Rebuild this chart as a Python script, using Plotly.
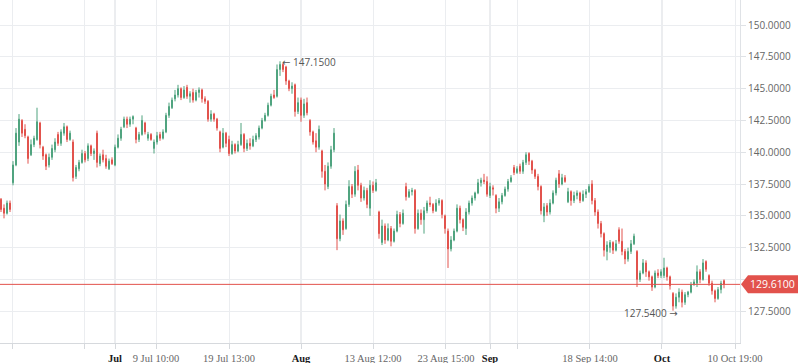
import plotly.graph_objects as go

# ---- data ----
opens = [136.3,135.6,135.2,136.0,137.6,139.0,140.8,142.5,141.8,141.2,139.8,140.6,141.0,142.3,140.4,139.8,139.0,139.6,140.2,141.4,
140.7,141.5,142.0,141.0,140.8,138.1,138.7,139.2,139.9,139.5,140.5,139.9,141.5,139.1,139.8,139.5,138.7,139.4,139.0,140.4,
141.1,142.0,142.6,142.2,142.6,141.9,141.0,141.4,142.3,141.1,141.4,140.3,140.8,141.4,141.1,141.6,142.9,143.5,144.2,144.5,
145.0,144.3,145.1,144.4,144.7,144.1,144.7,144.9,144.2,144.0,142.6,143.0,142.6,141.6,140.4,141.5,141.0,139.9,140.6,140.1,
140.6,141.4,140.3,140.7,140.5,141.0,141.2,141.9,142.5,142.9,143.7,144.5,144.4,146.5,146.9,146.7,145.6,145.0,145.3,143.2,
144.1,142.9,143.9,142.5,141.6,140.9,140.4,140.1,138.5,137.3,138.9,140.2,135.8,133.2,134.6,134.0,135.9,137.3,136.7,138.6,
137.4,136.4,137.0,135.6,137.4,137.0,135.3,132.9,134.2,133.1,134.0,133.0,133.8,135.1,134.4,137.3,136.5,136.9,137.0,134.0,
135.2,134.7,135.4,136.0,135.9,135.4,136.0,136.2,135.0,133.8,132.4,133.1,133.8,135.6,134.7,134.0,135.3,136.0,136.4,136.8,
137.6,137.8,137.7,136.6,137.2,136.6,135.6,136.1,136.6,137.1,137.7,138.8,138.4,138.9,138.5,139.2,139.9,139.3,138.6,138.1,
137.3,135.0,135.8,135.3,136.0,136.8,138.3,137.5,138.0,136.1,136.9,136.2,136.6,136.8,136.2,136.7,136.9,137.5,136.2,135.3,
134.4,133.6,132.2,132.5,132.9,132.3,133.9,133.0,132.2,131.6,132.2,132.8,132.2,130.0,130.5,131.3,130.6,130.2,129.4,130.5,
130.3,130.3,130.9,130.2,128.9,127.9,128.6,129.0,128.2,128.8,129.0,129.6,129.7,130.6,130.0,131.4,130.3,129.7,129.1,128.5,
129.2,129.9]
highs = [136.4,135.9,136.2,136.2,139.3,141.9,143.0,142.6,142.2,141.3,141.0,141.3,143.5,142.4,140.5,139.9,139.9,140.6,141.1,141.6,
141.8,142.3,142.1,141.7,141.0,139.0,139.4,140.2,140.1,140.7,140.6,140.3,141.7,139.9,140.2,139.8,139.5,139.6,140.6,141.4,
142.0,142.8,142.8,142.8,142.9,142.0,141.6,142.9,142.4,141.6,141.5,141.0,141.6,141.6,141.8,143.1,143.9,144.3,144.9,145.3,
145.1,145.2,145.3,144.8,145.0,144.9,145.1,145.0,144.4,144.1,143.3,143.1,142.7,141.7,141.9,141.6,141.3,140.9,140.7,140.9,
142.3,141.5,141.0,141.1,141.3,141.5,142.1,142.7,143.1,143.9,144.6,144.9,146.9,147.15,147.0,146.8,145.7,145.5,145.4,144.3,
144.3,144.2,144.3,142.6,141.7,141.5,142.1,140.2,139.0,139.2,140.5,141.9,136.0,135.1,134.8,136.2,137.8,137.5,138.9,139.0,
137.6,137.3,137.2,137.8,137.7,137.9,135.4,134.7,134.4,134.4,134.2,134.0,135.4,135.3,135.5,137.6,137.1,137.2,137.1,135.5,
135.5,135.7,136.2,136.5,136.0,136.3,136.4,136.3,135.1,134.0,133.4,134.0,135.9,135.8,134.8,135.6,136.2,136.6,136.9,137.9,
138.0,138.3,138.1,137.6,137.4,136.7,136.4,136.8,137.3,137.9,138.2,139.0,138.9,139.1,139.4,140.0,140.0,139.4,138.7,138.3,
137.4,136.0,136.0,136.3,137.0,138.0,138.6,138.3,138.2,137.2,137.0,136.9,137.0,136.9,137.0,137.1,137.5,137.8,136.4,135.5,
134.6,133.7,133.0,133.1,133.0,133.1,134.1,134.0,132.4,132.5,133.1,133.6,132.3,130.7,131.6,131.5,130.7,130.3,130.7,130.8,
130.8,131.7,131.0,130.3,129.0,128.9,129.3,129.2,129.0,129.1,129.8,130.0,131.1,130.8,131.6,131.5,130.4,129.9,129.2,129.4,
129.9,130.0]
lows = [135.3,134.8,135.1,135.3,137.4,138.9,140.5,141.2,141.1,139.1,139.7,140.4,140.9,140.3,139.4,138.6,138.8,139.4,140.0,140.5,
140.5,141.3,140.8,140.9,137.7,137.9,138.5,139.1,139.2,139.3,139.7,139.4,138.8,138.9,139.2,138.7,138.6,139.0,138.9,140.3,
140.9,141.9,141.9,142.0,142.2,140.7,140.8,141.3,141.4,140.9,140.9,139.9,140.6,140.9,141.0,141.5,142.7,143.4,144.0,144.3,
144.1,144.2,144.2,143.9,143.9,144.0,144.3,143.9,143.8,142.4,142.4,142.4,141.7,140.0,140.3,140.4,139.7,139.8,139.9,140.0,
140.5,140.0,140.1,140.2,140.4,140.8,141.0,141.8,142.4,142.8,143.6,144.2,144.3,146.0,146.3,145.3,144.8,144.6,142.8,143.0,
142.4,142.7,142.9,141.3,140.6,140.0,140.2,138.0,137.0,137.1,138.7,140.0,132.3,133.0,133.5,133.9,135.7,136.4,136.5,137.0,
136.1,136.2,135.6,135.0,136.8,136.9,133.2,132.7,132.8,133.0,132.6,132.9,133.7,134.1,134.3,136.2,136.4,136.6,133.6,133.9,
134.3,133.6,135.2,135.7,135.2,135.3,135.8,134.8,133.6,130.9,132.2,133.0,133.7,134.4,133.8,133.5,135.1,135.8,136.2,136.7,
137.3,137.5,136.5,136.4,136.6,135.2,135.3,135.9,136.5,136.9,137.6,138.2,138.3,138.3,138.3,139.0,139.0,138.3,137.9,137.0,
135.1,134.5,135.0,135.1,135.9,136.6,137.2,137.4,137.6,136.0,135.8,136.0,136.3,136.0,136.1,136.4,136.8,135.9,135.0,134.0,
133.3,131.8,131.5,132.1,132.0,132.2,132.8,131.9,131.2,131.4,132.0,132.7,129.4,129.8,130.4,130.2,129.9,129.1,129.3,130.1,
130.1,130.1,129.9,129.2,127.54,127.7,128.2,127.8,128.0,128.6,128.9,129.5,129.4,129.7,129.9,130.6,129.5,128.8,128.2,128.4,
128.9,129.3]
closes = [135.5,135.2,136.0,135.5,139.0,141.5,142.6,141.5,141.3,139.5,140.6,141.1,142.4,140.6,139.7,138.9,139.6,140.3,140.8,140.7,
141.6,142.0,141.0,141.5,138.0,138.8,139.2,139.9,139.4,140.5,139.9,140.1,139.2,139.7,139.4,138.9,139.3,139.1,140.4,141.1,
141.8,142.6,142.2,142.6,142.8,141.0,141.4,142.5,141.6,141.4,141.0,140.8,141.3,141.1,141.6,142.9,143.6,144.1,144.5,145.0,
144.3,144.9,144.4,144.6,144.1,144.7,144.9,144.2,144.0,142.6,143.0,142.6,141.9,140.3,141.5,140.7,139.9,140.6,140.1,140.6,
141.4,140.3,140.7,140.5,141.0,141.3,141.9,142.5,142.9,143.7,144.4,144.3,146.5,146.9,146.5,145.6,145.0,145.2,143.2,143.9,
142.9,143.8,143.1,141.6,140.8,140.4,141.8,138.5,137.5,138.9,140.2,141.5,133.2,134.6,133.9,135.9,137.3,136.7,138.5,137.4,
136.4,137.0,135.9,137.4,137.0,137.6,133.6,134.2,133.1,134.0,133.0,133.8,135.1,134.4,135.2,136.5,136.9,137.0,134.0,135.2,
134.7,135.4,136.0,135.9,135.4,136.0,136.2,135.1,134.0,132.4,133.1,133.8,135.6,134.7,134.1,135.3,136.0,136.4,136.8,137.6,
137.8,137.7,136.7,137.3,137.1,135.6,136.1,136.6,137.1,137.7,138.0,138.4,138.7,138.5,139.2,139.8,139.3,138.6,138.1,137.3,
135.4,135.7,135.3,136.0,136.8,137.8,137.5,138.0,137.7,136.9,136.2,136.6,136.8,136.2,136.7,136.9,137.3,136.2,135.3,134.4,
133.6,132.3,132.7,132.9,132.3,132.8,133.0,132.2,131.6,132.2,132.8,133.4,130.0,130.5,131.3,130.6,130.2,129.4,130.5,130.3,
130.6,130.9,130.2,129.5,127.9,128.6,129.0,128.2,128.8,129.0,129.6,129.8,130.6,130.0,131.3,130.8,129.7,129.1,128.5,129.2,
129.7,129.61]

# x-axis grid positions (candle index) and their labels
tick_pos = [3.67, 27.67, 38.0, 51.67, 76.0, 100.0, 124.0, 148.33, 163.0, 172.33, 196.33, 220.33, 244.67]
tick_labels = ["", "", "Jul", "9 Jul 10:00", "19 Jul 13:00", "Aug", "13 Aug 12:00",
               "23 Aug 15:00", "Sep", "", "18 Sep 14:00", "Oct", "10 Oct 19:00"]
month_labels = {"Jul", "Aug", "Sep", "Oct"}
y_ticks = [127.5, 130.0, 132.5, 135.0, 137.5, 140.0, 142.5, 145.0, 147.5, 150.0]

high_idx, high_val = 93, 147.15
low_idx, low_val = 224, 127.54
last_price = 129.61

GREEN = "#4fa37e"
RED = "#e2524c"
GRID = "#ebedf0"
MONTH = "#d8dbdf"

idx = list(range(len(closes)))

fig = go.Figure()
fig.add_trace(go.Candlestick(
    x=idx, open=opens, high=highs, low=lows, close=closes,
    increasing=dict(line=dict(color=GREEN, width=1), fillcolor=GREEN),
    decreasing=dict(line=dict(color=RED, width=1), fillcolor=RED),
    whiskerwidth=0, hoverinfo="skip", showlegend=False,
))

ticktext = []
for t in tick_labels:
    if t in month_labels:
        ticktext.append(f"<span style='color:#1a1a1a'><b>{t}</b></span>")
    else:
        ticktext.append(t)

# y tick labels: the one hidden behind the last-price box is left blank
y_ticktext = ["" if abs(v - last_price) < 1.0 else f"{v:.4f}" for v in y_ticks]

shapes = []
for p, t in zip(tick_pos, tick_labels):
    if t in month_labels:
        shapes.append(dict(type="line", xref="x", yref="paper", x0=p, x1=p, y0=0, y1=1,
                           line=dict(color=MONTH, width=1), layer="below"))
shapes.append(dict(type="line", xref="paper", yref="y", x0=0, x1=1, y0=last_price, y1=last_price,
                   line=dict(color=RED, width=1), layer="above"))
shapes.append(dict(type="path", xref="paper", yref="y", xsizemode="pixel", ysizemode="pixel",
                   xanchor=1, yanchor=last_price,
                   path="M1,0 L8,9 L58,9 L58,-9 L8,-9 Z",
                   fillcolor=RED, line=dict(width=0), layer="above"))

ARROW_L = "<span style='font-family:DejaVu Sans'>\u2190</span>"
ARROW_R = "<span style='font-family:DejaVu Sans'>\u2192</span>"

annotations = [
    dict(x=high_idx, y=high_val, xref="x", yref="y", text=f"{ARROW_L} {high_val:.4f}", showarrow=False,
         xanchor="left", yanchor="middle", xshift=0, yshift=-1,
         font=dict(family="Open Sans", size=10, color="#555555")),
    dict(x=low_idx, y=low_val, xref="x", yref="y", text=f"{low_val:.4f} {ARROW_R}", showarrow=False,
         xanchor="right", yanchor="middle", xshift=7, yshift=-2,
         font=dict(family="Open Sans", size=10, color="#555555")),
    dict(x=1, y=last_price, xref="paper", yref="y", text=f"{last_price:.4f}", showarrow=False,
         xanchor="center", yanchor="middle", xshift=32, font=dict(family="Open Sans", size=10.5, color="#ffffff")),
]

fig.update_layout(
    width=798, height=363,
    margin=dict(l=0, r=58, t=0, b=20, autoexpand=False),
    paper_bgcolor="white", plot_bgcolor="white",
    boxgap=0.55,
    shapes=shapes, annotations=annotations,
    xaxis=dict(
        range=[-0.333, 246.333], rangeslider=dict(visible=False),
        tickmode="array", tickvals=tick_pos, ticktext=ticktext,
        showgrid=True, gridcolor=GRID, gridwidth=1,
        showline=True, linecolor="#d6d9dd", linewidth=1,
        ticks="outside", ticklen=5, tickcolor="#d6d9dd",
        tickfont=dict(family="Liberation Serif", size=10.5, color="#666666"),
        zeroline=False, fixedrange=True,
    ),
    yaxis=dict(
        side="right", range=[125.0, 151.97],
        tickmode="array", tickvals=y_ticks, ticktext=y_ticktext,
        showgrid=True, gridcolor=GRID, gridwidth=1,
        showline=True, linecolor="#dfe2e6", linewidth=1,
        ticks="outside", ticklen=5, tickcolor="#dfe2e6",
        tickfont=dict(family="Open Sans", size=10, color="#666666"),
        zeroline=False, fixedrange=True,
    ),
)

fig.write_html("out.html", config={"displayModeBar": False},
               post_script="document.body.style.margin='0px';document.body.style.overflow='hidden';")
